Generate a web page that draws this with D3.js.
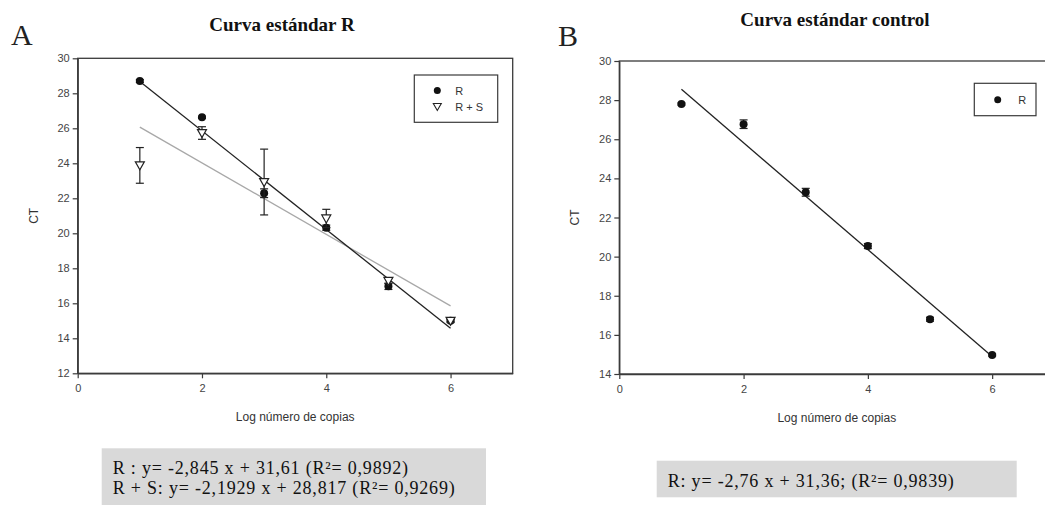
<!DOCTYPE html>
<html><head><meta charset="utf-8">
<script src="https://cdn.jsdelivr.net/npm/d3@7"></script>
<style>
html,body{margin:0;padding:0;background:#fff;}
svg{display:block;}
</style></head>
<body>
<svg id="c" width="1045" height="505"></svg>
<script>
// ---- Data ----
const xTicks = [0, 2, 4, 6];
const yTicksA = [12, 14, 16, 18, 20, 22, 24, 26, 28, 30];
const yTicksB = [14, 16, 18, 20, 22, 24, 26, 28, 30];

const xA = [1, 2, 3, 4, 5, 6];
const ctA_R = [28.7, 26.63, 22.29, 20.32, 16.97, 15.0];
const errA_R = [0.08, 0.06, 0.25, 0.15, 0.18, 0.05];
const ctA_RS = [23.88, 25.73, 22.93, 20.85, 17.28, 15.0];
const errA_RS = [1.02, 0.36, 1.88, 0.52, 0.15, 0.1];
const fitA_R = [[1, 28.68], [6, 14.57]];
const fitA_RS = [[1, 26.07], [6, 15.85]];

const xB = [1, 2, 3, 4, 5, 6];
const ctB_R = [27.8, 26.77, 23.29, 20.54, 16.8, 14.97];
const errB_R = [0.05, 0.22, 0.2, 0.13, 0.1, 0.05];
const fitB_R = [[1, 28.55], [6, 14.9]];

const titles = ["Curva estándar R", "Curva estándar control"];
const panelLetters = ["A", "B"];
const xLabel = "Log número de copias";
const yLabel = "CT";
const eqA = ["R : y= -2,845 x + 31,61 (R\u00B2= 0,9892)", "R + S: y= -2,1929 x + 28,817 (R\u00B2= 0,9269)"];
const eqB = ["R: y= -2,76 x + 31,36; (R\u00B2= 0,9839)"];

// ---- Drawing ----
const svg = d3.select("#c");
const axisColor = "#3a3a3a";
const serif = "'Liberation Serif', 'Times New Roman', serif";
const sans = "'Liberation Sans', Arial, sans-serif";

function panel(cfg) {
  const x = d3.scaleLinear().domain([0, 7]).range([cfg.left, cfg.left + 435]);
  const y = d3.scaleLinear().domain(cfg.yDomain).range([cfg.bottom, cfg.top]);
  const g = svg.append("g");

  // frame
  g.append("rect").attr("x", x(0)).attr("y", y(cfg.yDomain[1]))
    .attr("width", x(7) - x(0)).attr("height", y(cfg.yDomain[0]) - y(cfg.yDomain[1]))
    .attr("fill", "none").attr("stroke", axisColor).attr("stroke-width", 1.3);

  const xa = g.append("g").attr("transform", `translate(0,${cfg.bottom})`)
    .call(d3.axisBottom(x).tickValues(xTicks).tickFormat(d3.format("d")).tickSize(5).tickPadding(6).tickSizeOuter(0));
  const ya = g.append("g").attr("transform", `translate(${cfg.left},0)`)
    .call(d3.axisLeft(y).tickValues(cfg.yTicks).tickFormat(d3.format("d")).tickSize(5).tickPadding(3).tickSizeOuter(0));
  [xa, ya].forEach(a => {
    a.select(".domain").attr("stroke", axisColor).attr("stroke-width", 1.3);
    a.selectAll(".tick line").attr("stroke", axisColor).attr("stroke-width", 1.2);
    a.selectAll(".tick text").attr("fill", "#444").attr("font-family", sans).attr("font-size", 11);
  });

  // axis labels
  g.append("text").attr("x", (x(0) + x(7)) / 2).attr("y", cfg.bottom + 48)
    .attr("text-anchor", "middle").attr("font-family", sans).attr("font-size", 12).attr("fill", "#333")
    .text(xLabel);
  g.append("text").attr("transform", `translate(${cfg.left - 40},${(cfg.top + cfg.bottom) / 2}) rotate(-90)`)
    .attr("text-anchor", "middle").attr("font-family", sans).attr("font-size", 12).attr("fill", "#333")
    .text(yLabel);

  // title & letter
  g.append("text").attr("x", cfg.titleX).attr("y", cfg.titleY).attr("text-anchor", "middle")
    .attr("font-family", serif).attr("font-weight", "bold").attr("font-size", 19).attr("fill", "#111")
    .text(cfg.title);
  g.append("text").attr("x", cfg.letterX).attr("y", cfg.letterY)
    .attr("font-family", serif).attr("font-size", 30).attr("fill", "#222").text(cfg.letter);

  const line = d3.line().x(d => x(d[0])).y(d => y(d[1]));
  cfg.fits.forEach(f => {
    g.append("path").datum(f.pts).attr("d", line).attr("fill", "none")
      .attr("stroke", f.color).attr("stroke-width", 1.3);
  });

  cfg.series.forEach(s => {
    const data = s.x.map((xv, i) => ({ x: xv, y: s.y[i], e: s.e[i] }));
    const eg = g.append("g");
    data.forEach(d => {
      const cap = 4;
      const x0 = x(d.x), y1 = y(d.y + d.e), y2 = y(d.y - d.e);
      eg.append("line").attr("x1", x0).attr("x2", x0).attr("y1", y1).attr("y2", y2).attr("stroke", "#222").attr("stroke-width", 1.2);
      eg.append("line").attr("x1", x0 - cap).attr("x2", x0 + cap).attr("y1", y1).attr("y2", y1).attr("stroke", "#222").attr("stroke-width", 1.2);
      eg.append("line").attr("x1", x0 - cap).attr("x2", x0 + cap).attr("y1", y2).attr("y2", y2).attr("stroke", "#222").attr("stroke-width", 1.2);
    });
    data.forEach(d => {
      if (s.shape === "circle") {
        eg.append("circle").attr("cx", x(d.x)).attr("cy", y(d.y)).attr("r", 4).attr("fill", "#111");
      } else {
        const cx = x(d.x), cy = y(d.y);
        eg.append("path").attr("d", `M${cx - 4.5},${cy - 3.5}L${cx + 4.5},${cy - 3.5}L${cx},${cy + 4.5}Z`)
          .attr("fill", "#fff").attr("stroke", "#222").attr("stroke-width", 1.2);
      }
    });
  });

  // legend
  const L = cfg.legend;
  g.append("rect").attr("x", L.x).attr("y", L.y).attr("width", L.w).attr("height", L.h)
    .attr("fill", "#fff").attr("stroke", axisColor).attr("stroke-width", 1.2);
  L.items.forEach((it, i) => {
    const cy = L.y + L.first + i * L.step;
    const mx = L.x + L.mx;
    if (it.shape === "circle") {
      g.append("circle").attr("cx", mx).attr("cy", cy).attr("r", 3.5).attr("fill", "#111");
    } else {
      g.append("path").attr("d", `M${mx - 4},${cy - 3}L${mx + 4},${cy - 3}L${mx},${cy + 4}Z`)
        .attr("fill", "#fff").attr("stroke", "#222").attr("stroke-width", 1.1);
    }
    g.append("text").attr("x", L.x + L.tx).attr("y", cy + 4).attr("font-family", sans)
      .attr("font-size", 11).attr("fill", "#333").text(it.label);
  });

  // equation box
  const E = cfg.eq;
  svg.append("rect").attr("x", E.x).attr("y", E.y).attr("width", E.w).attr("height", E.h).attr("fill", "#d9d9d9");
  E.lines.forEach((t, i) => {
    svg.append("text").attr("x", E.x + 11).attr("y", E.y + E.base + i * 20)
      .attr("font-family", serif).attr("font-size", 18).attr("letter-spacing", "0.8px")
      .attr("fill", "#111").text(t);
  });
}

panel({
  left: 77.7, top: 58.3, bottom: 373.3, yDomain: [12, 30], yTicks: yTicksA,
  title: titles[0], titleX: 282, titleY: 31, letter: panelLetters[0], letterX: 11, letterY: 45,
  fits: [{ pts: fitA_RS, color: "#a8a8a8" }, { pts: fitA_R, color: "#222" }],
  series: [
    { x: xA, y: ctA_R, e: errA_R, shape: "circle" },
    { x: xA, y: ctA_RS, e: errA_RS, shape: "tri" }
  ],
  legend: { x: 414.3, y: 75, w: 83.4, h: 47.3, first: 15.5, step: 16, mx: 23, tx: 41,
    items: [{ shape: "circle", label: "R" }, { shape: "tri", label: "R + S" }] },
  eq: { x: 101.7, y: 448.3, w: 384.3, h: 60, base: 25.7, lines: eqA }
});

panel({
  left: 619.3, top: 61, bottom: 374, yDomain: [14, 30], yTicks: yTicksB,
  title: titles[1], titleX: 835, titleY: 26, letter: panelLetters[1], letterX: 558, letterY: 45.5,
  fits: [{ pts: fitB_R, color: "#222" }],
  series: [{ x: xB, y: ctB_R, e: errB_R, shape: "circle" }],
  legend: { x: 974.3, y: 83.3, w: 61.7, h: 32.4, first: 16.5, step: 16, mx: 23.4, tx: 44,
    items: [{ shape: "circle", label: "R" }] },
  eq: { x: 656.7, y: 460.7, w: 360, h: 36.6, base: 26, lines: eqB }
});
</script>
</body></html>
